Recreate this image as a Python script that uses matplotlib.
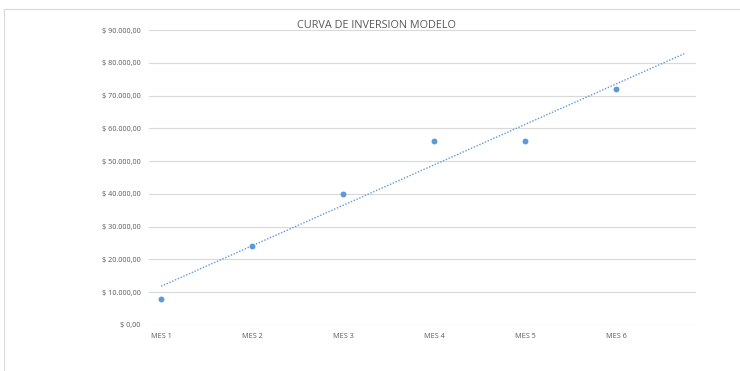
import matplotlib
matplotlib.use('Agg')
import matplotlib.pyplot as plt
from matplotlib.lines import Line2D
import numpy as np

meses = ['MES 1', 'MES 2', 'MES 3', 'MES 4', 'MES 5', 'MES 6']
inversion = [8000, 24000, 40000, 56000, 56000, 72000]
y_ticks = [0, 10000, 20000, 30000, 40000, 50000, 60000, 70000, 80000, 90000]

azul = '#5B9BD5'
gris = '#D9D9D9'
texto = '#595959'

plt.rcParams['font.family'] = ['Open Sans', 'DejaVu Sans']

def pesos(v):
    s = '{:,.2f}'.format(v).replace(',', 'X').replace('.', ',').replace('X', '.')
    return '$ ' + s

fig = plt.figure(figsize=(7.4, 3.71), dpi=100)
ax = fig.add_axes([149 / 740, 1 - 325 / 371, (696 - 149) / 740, (325 - 30) / 371])

x = np.arange(1, len(meses) + 1)
ax.scatter(x, inversion, s=18, color=azul, zorder=3, linewidths=0)

# linear trend, projected 0.75 periods forward
m, b = np.polyfit(x, inversion, 1)
xt = np.array([1, len(meses) + 0.75])
ax.plot(xt, m * xt + b, color=azul, lw=1.0, linestyle=(0, (1, 1.2)), zorder=2)

ax.set_xlim(1 - 12 / 91, 1 + (696 - 161) / 91)
ax.set_ylim(0, 90000)
ax.set_yticks(y_ticks)
ax.set_yticklabels([pesos(v) for v in y_ticks])
ax.set_xticks(x)
ax.set_xticklabels(meses)
ax.tick_params(length=0, labelsize=5.2, colors=texto, pad=6)
ax.grid(axis='y', color=gris, lw=0.8)
ax.set_axisbelow(True)
for s in ax.spines.values():
    s.set_visible(False)

fig.text(376 / 740, 1 - 25 / 371, 'CURVA DE INVERSION MODELO', ha='center', va='center',
         fontsize=7.8, color=texto)

# chart area border (left and top edges only)
fig.add_artist(Line2D([4 / 740, 4 / 740], [0, 1 - 9 / 371], transform=fig.transFigure, color=gris, lw=0.8))
fig.add_artist(Line2D([4 / 740, 1], [1 - 9 / 371, 1 - 9 / 371], transform=fig.transFigure, color=gris, lw=0.8))

fig.savefig('out.png', dpi=100)
